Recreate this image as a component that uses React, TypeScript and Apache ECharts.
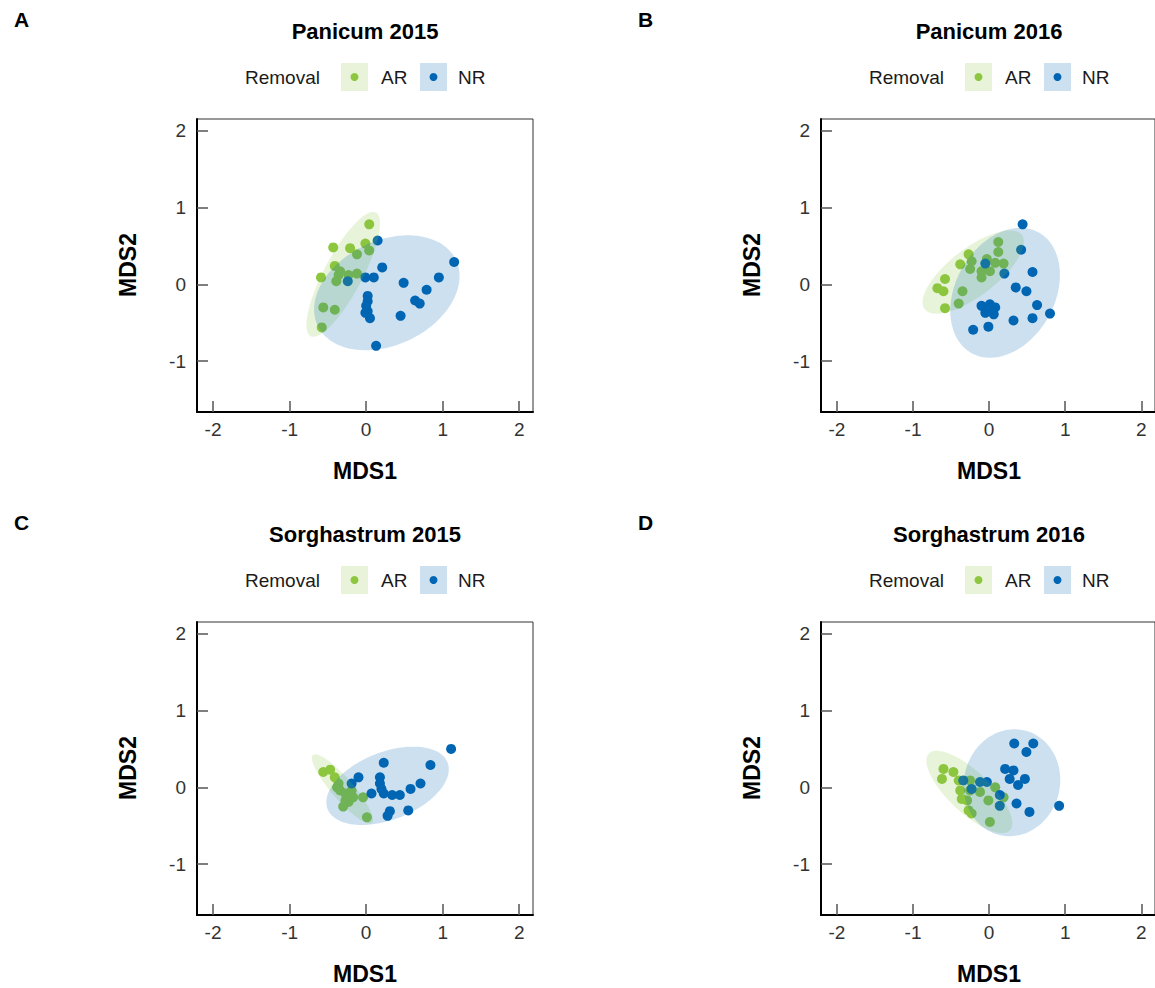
import React, { useEffect, useRef } from "react";
import * as echarts from "echarts";

// ---------- data ----------
const panelTitles = ["Panicum 2015", "Panicum 2016", "Sorghastrum 2015", "Sorghastrum 2016"];
const panelLetters = ["A", "B", "C", "D"];
const legendTitle = "Removal";
const groupNames = ["AR", "NR"];
const xTicks = [-2, -1, 0, 1, 2];
const yTicks = [-1, 0, 1, 2];
const xName = "MDS1";
const yName = "MDS2";

const panicum2015AR = [
  [0.04, 0.78], [-0.43, 0.48], [-0.21, 0.47], [-0.01, 0.53], [0.04, 0.44], [-0.12, 0.39],
  [-0.41, 0.24], [-0.34, 0.17], [-0.12, 0.14], [-0.23, 0.12], [-0.36, 0.12], [-0.59, 0.09],
  [-0.39, 0.04], [-0.56, -0.3], [-0.41, -0.33], [-0.58, -0.56],
];
const panicum2015NR = [
  [0.15, 0.57], [0.21, 0.22], [1.15, 0.29], [-0.24, 0.04], [-0.01, 0.09], [0.1, 0.09],
  [0.49, 0.02], [0.95, 0.09], [0.79, -0.07], [0.64, -0.21], [0.7, -0.25], [0.02, -0.15],
  [0.02, -0.22], [0.0, -0.28], [0.02, -0.35], [-0.01, -0.37], [0.05, -0.44], [0.45, -0.41],
  [0.13, -0.8],
];
const panicum2016AR = [
  [0.12, 0.55], [0.12, 0.42], [-0.27, 0.39], [-0.23, 0.3], [-0.38, 0.26], [-0.03, 0.33],
  [0.08, 0.28], [0.19, 0.27], [-0.25, 0.2], [-0.1, 0.17], [0.01, 0.17], [-0.1, 0.09],
  [-0.58, 0.07], [-0.68, -0.05], [-0.6, -0.09], [-0.35, -0.09], [-0.4, -0.25], [-0.58, -0.31],
];
const panicum2016NR = [
  [0.44, 0.78], [0.42, 0.45], [-0.05, 0.27], [0.2, 0.14], [0.57, 0.16], [0.35, -0.04],
  [0.49, -0.09], [0.63, -0.27], [0.8, -0.38], [0.57, -0.44], [0.32, -0.47], [-0.1, -0.28],
  [0.01, -0.26], [0.08, -0.3], [-0.05, -0.37], [0.06, -0.39], [-0.01, -0.33], [-0.01, -0.55],
  [-0.21, -0.59],
];
const sorghastrum2015AR = [
  [-0.56, 0.2], [-0.47, 0.23], [-0.41, 0.13], [-0.36, 0.05], [-0.38, 0.0], [-0.34, -0.04],
  [-0.27, -0.08], [-0.19, -0.04], [-0.17, -0.13], [-0.27, -0.17], [-0.23, -0.19], [-0.3, -0.25],
  [-0.04, -0.13], [0.01, -0.39],
];
const sorghastrum2015NR = [
  [1.11, 0.5], [0.84, 0.29], [0.23, 0.32], [-0.1, 0.13], [0.18, 0.13], [-0.19, 0.05],
  [0.18, 0.05], [0.71, 0.05], [0.58, -0.02], [0.07, -0.08], [0.23, -0.08], [0.34, -0.1],
  [0.44, -0.1], [0.2, -0.02], [0.31, -0.31], [0.28, -0.37], [0.55, -0.3],
];
const sorghastrum2016AR = [
  [-0.6, 0.24], [-0.62, 0.11], [-0.47, 0.2], [-0.4, 0.09], [-0.25, 0.09], [-0.38, -0.04],
  [-0.25, -0.04], [-0.12, -0.06], [0.08, 0.0], [-0.36, -0.15], [-0.29, -0.17], [-0.01, -0.17],
  [0.19, -0.13], [-0.27, -0.3], [-0.23, -0.34], [0.01, -0.45],
];
const sorghastrum2016NR = [
  [0.33, 0.57], [0.58, 0.57], [0.49, 0.46], [0.21, 0.24], [0.32, 0.22], [0.47, 0.11],
  [0.27, 0.11], [0.38, 0.03], [-0.12, 0.07], [-0.03, 0.07], [-0.34, 0.09], [-0.23, -0.02],
  [0.14, -0.24], [0.14, -0.1], [0.36, -0.21], [0.53, -0.32], [0.92, -0.24],
];

// ellipses: [centerX, centerY, semiMajor, semiMinor, angleDeg]
const panicum2015ARellipse = [-0.3, 0.13, 0.91, 0.25, 62];
const panicum2015NRellipse = [0.27, -0.11, 1.0, 0.68, 25];
const panicum2016ARellipse = [-0.21, 0.16, 0.8, 0.31, 37];
const panicum2016NRellipse = [0.21, -0.11, 0.9, 0.65, 60];
const sorghastrum2015ARellipse = [-0.31, -0.02, 0.585, 0.14, -48.8];
const sorghastrum2015NRellipse = [0.28, 0.02, 0.84, 0.44, 21];
const sorghastrum2016ARellipse = [-0.26, -0.06, 0.73, 0.27, -43];
const sorghastrum2016NRellipse = [0.3, 0.06, 0.7, 0.63, 75];

const panelPoints = [
  [panicum2015AR, panicum2015NR],
  [panicum2016AR, panicum2016NR],
  [sorghastrum2015AR, sorghastrum2015NR],
  [sorghastrum2016AR, sorghastrum2016NR],
];
const panelEllipses = [
  [panicum2015ARellipse, panicum2015NRellipse],
  [panicum2016ARellipse, panicum2016NRellipse],
  [sorghastrum2015ARellipse, sorghastrum2015NRellipse],
  [sorghastrum2016ARellipse, sorghastrum2016NRellipse],
];

// ---------- styling / layout ----------
const FONT = "'Liberation Sans', Arial, Helvetica, sans-serif";
const pointColors = ["#8DC63F", "#0066B3"];
const ellipseFills = ["rgba(141,198,63,0.2)", "rgba(0,102,179,0.2)"];
const legendBoxFills = ["#E8F3D9", "#CCE0F0"];
const gridLefts = [197, 821, 197, 821];
const gridTops = [119, 119, 622, 622];
const GRID_W = 336;
const GRID_H = 293;
const X_MIN = -2.21, X_MAX = 2.18, Y_MIN = -1.66, Y_MAX = 2.15;

export default function App() {
  const ref = useRef<HTMLDivElement>(null);
  useEffect(() => {
    if (!ref.current) return;
    const chart = echarts.init(ref.current, null, { renderer: "svg" });

    const grids: any[] = [];
    const xAxes: any[] = [];
    const yAxes: any[] = [];
    const series: any[] = [];
    const graphic: any[] = [];

    for (let p = 0; p < 4; p++) {
      const left = gridLefts[p];
      const top = gridTops[p];
      const dx = left - 197;
      const dy = top - 119;
      grids.push({
        left, top, width: GRID_W, height: GRID_H,
        show: true, borderColor: "#333", borderWidth: 1, backgroundColor: "transparent",
      });
      const tickStyle = { show: true, inside: true, length: 11, lineStyle: { color: "#555", width: 1.5 } };
      xAxes.push({
        gridIndex: p, type: "value", min: X_MIN, max: X_MAX,
        axisLine: { show: true, onZero: false, lineStyle: { color: "#000", width: 2 } },
        axisTick: { ...tickStyle, customValues: xTicks },
        axisLabel: { customValues: xTicks, fontSize: 19, color: "#333", margin: 8, fontFamily: FONT },
        splitLine: { show: false },
      });
      yAxes.push({
        gridIndex: p, type: "value", min: Y_MIN, max: Y_MAX,
        axisLine: { show: true, onZero: false, lineStyle: { color: "#000", width: 2 } },
        axisTick: { ...tickStyle, customValues: yTicks },
        axisLabel: { customValues: yTicks, fontSize: 19, color: "#333", margin: 11, fontFamily: FONT },
        splitLine: { show: false },
      });

      for (let g = 0; g < 2; g++) {
        series.push({
          type: "scatter", name: groupNames[g], xAxisIndex: p, yAxisIndex: p,
          data: panelPoints[p][g], symbol: "circle", symbolSize: 10,
          itemStyle: { color: pointColors[g], opacity: 1 }, silent: true, z: 2,
        });
      }
      for (let g = 0; g < 2; g++) {
        const fill = ellipseFills[g];
        series.push({
          type: "custom", xAxisIndex: p, yAxisIndex: p, coordinateSystem: "cartesian2d",
          data: [panelEllipses[p][g]], encode: { x: 0, y: 1 }, silent: true, z: 3,
          renderItem: (_params: any, api: any) => {
            const cx = api.value(0), cy = api.value(1), a = api.value(2), b = api.value(3);
            const ang = (api.value(4) * Math.PI) / 180;
            const pts: number[][] = [];
            const n = 120;
            for (let i = 0; i < n; i++) {
              const t = (i / n) * Math.PI * 2;
              const ex = cx + a * Math.cos(t) * Math.cos(ang) - b * Math.sin(t) * Math.sin(ang);
              const ey = cy + a * Math.cos(t) * Math.sin(ang) + b * Math.sin(t) * Math.cos(ang);
              pts.push(api.coord([ex, ey]));
            }
            return { type: "polygon", shape: { points: pts }, style: { fill, stroke: null } };
          },
        });
      }

      // panel letter and title
      graphic.push({
        type: "text", x: 14 + (p % 2) * 624, y: 19 + dy,
        style: { text: panelLetters[p], font: `bold 21px ${FONT}`, fill: "#000", textVerticalAlign: "middle" },
      });
      graphic.push({
        type: "text", x: 365 + dx, y: 31 + dy,
        style: { text: panelTitles[p], font: `bold 22px ${FONT}`, fill: "#000", textAlign: "center", textVerticalAlign: "middle" },
      });
      // legend
      graphic.push({
        type: "text", x: 245 + dx, y: 77 + dy,
        style: { text: legendTitle, font: `19px ${FONT}`, fill: "#1a1a1a", textVerticalAlign: "middle" },
      });
      const boxX = [341, 420];
      const labelX = [381, 458];
      for (let g = 0; g < 2; g++) {
        graphic.push({
          type: "rect", shape: { x: boxX[g] + dx, y: 63 + dy, width: 27, height: 28 },
          style: { fill: legendBoxFills[g] },
        });
        graphic.push({
          type: "circle", shape: { cx: boxX[g] + 13.5 + dx, cy: 77 + dy, r: 4 },
          style: { fill: pointColors[g] },
        });
        graphic.push({
          type: "text", x: labelX[g] + dx, y: 77 + dy,
          style: { text: groupNames[g], font: `19px ${FONT}`, fill: "#1a1a1a", textVerticalAlign: "middle" },
        });
      }
      // axis titles
      graphic.push({
        type: "text", x: 365 + dx, y: 471 + dy,
        style: { text: xName, font: `bold 23px ${FONT}`, fill: "#000", textAlign: "center", textVerticalAlign: "middle" },
      });
      graphic.push({
        type: "text", x: 128 + dx, y: 265 + dy, rotation: Math.PI / 2,
        style: { text: yName, font: `bold 23px ${FONT}`, fill: "#000", textAlign: "center", textVerticalAlign: "middle" },
      });
    }

    chart.setOption({
      animation: false,
      backgroundColor: "#fff",
      textStyle: { fontFamily: FONT },
      grid: grids,
      xAxis: xAxes,
      yAxis: yAxes,
      series,
      graphic,
    });
    return () => chart.dispose();
  }, []);

  return (
    <div
      ref={ref}
      style={{ position: "absolute", left: 0, top: 0, width: 1155, height: 988 }}
    />
  );
}
